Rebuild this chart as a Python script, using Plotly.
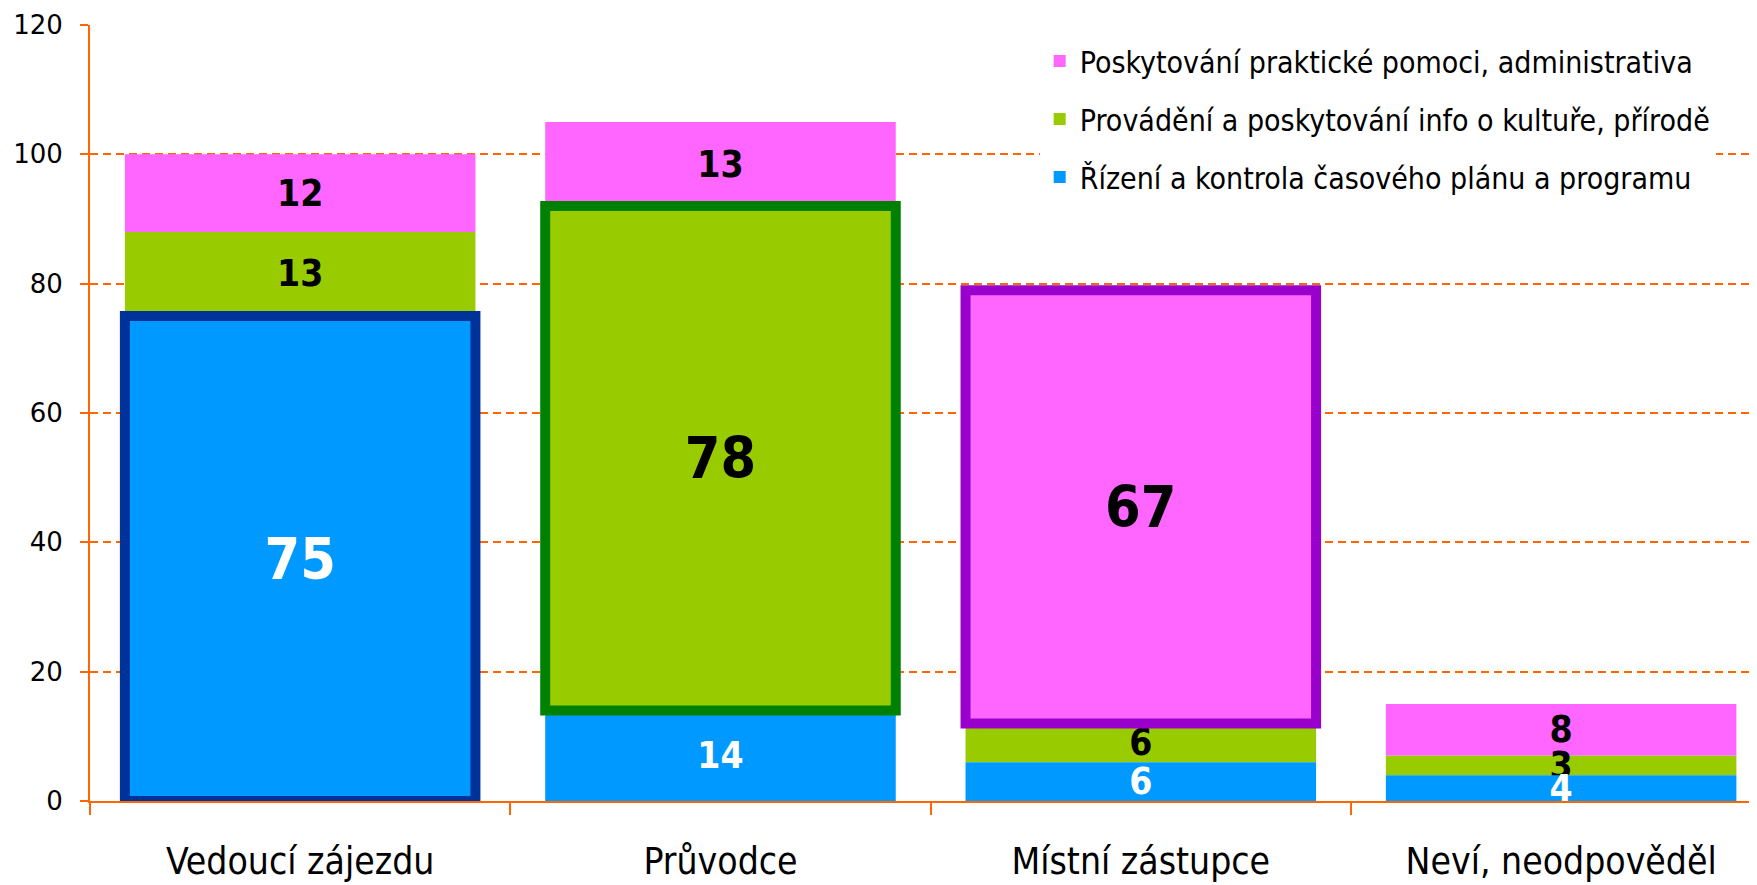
import plotly.graph_objects as go

# ---- data ----
categories = ["Vedoucí zájezdu", "Průvodce", "Místní zástupce", "Neví, neodpověděl"]
series_names = [
    "Řízení a kontrola časového plánu a programu",
    "Provádění a poskytování info o kultuře, přírodě",
    "Poskytování praktické pomoci, administrativa",
]
rizeni = [75, 14, 6, 4]
provadeni = [13, 78, 6, 3]
poskytovani = [12, 13, 67, 8]
highlight = [0, 1, 2, None]          # emphasised series per category
y_ticks = [0, 20, 40, 60, 80, 100, 120]

# ---- styles ----
fills = ["#0099FF", "#99CC00", "#FF66FF"]
borders = ["#003399", "#008000", "#9900CC"]
label_colors = ["white", "black", "black"]
ORANGE = "#FF6600"
COND = "DejaVu Sans Condensed, DejaVu Sans, sans-serif"
BIG, SMALL = 57, 37

series = [rizeni, provadeni, poskytovani]
n = len(categories)

# cumulative bases
bases = []
run = [0] * n
for s in series:
    bases.append(list(run))
    run = [r + v for r, v in zip(run, s)]

fig = go.Figure()
# add in legend order (top series first); bases are explicit
for si in reversed(range(len(series))):
    name, vals = series_names[si], series[si]
    sizes = [BIG if highlight[i] == si else SMALL for i in range(n)]
    fig.add_trace(go.Bar(
        x=categories, y=vals, base=bases[si], name=name,
        marker=dict(color=fills[si], line=dict(width=0)),
        text=[str(v) for v in vals], textposition="inside",
        insidetextanchor="middle", textangle=0, constraintext="none",
        textfont=dict(family=COND, size=sizes, color=label_colors[si], weight="bold"),
        legendgroup=name, hoverinfo="skip",
    ))

# outline of emphasised segments
hl_y = [series[h][i] if h is not None else None for i, h in enumerate(highlight)]
hl_base = [bases[h][i] if h is not None else None for i, h in enumerate(highlight)]
hl_col = [borders[h] if h is not None else "rgba(0,0,0,0)" for h in highlight]
fig.add_trace(go.Bar(
    x=categories, y=hl_y, base=hl_base, showlegend=False,
    marker=dict(color="rgba(0,0,0,0)", line=dict(width=10, color=hl_col)),
    cliponaxis=False, hoverinfo="skip",
))

fig.update_layout(
    width=1749, height=877,
    margin=dict(l=82, r=0, t=17, b=84),
    paper_bgcolor="white", plot_bgcolor="white",
    barmode="overlay", bargap=0.166,
    showlegend=True,
    legend=dict(
        x=0.5697, y=0.987, xanchor="left", yanchor="top",
        bgcolor="white", font=dict(family=COND, size=30, color="black"),
        traceorder="grouped", tracegroupgap=16,
    ),
    font=dict(family="DejaVu Sans, sans-serif", color="black"),
)
fig.update_xaxes(
    range=[-0.5, 3.466], showline=True, linecolor=ORANGE, linewidth=2,
    ticks="outside", tickson="boundaries", ticklen=12, tickcolor=ORANGE, tickwidth=1.5,
    tickfont=dict(family=COND, size=37, color="black"), ticklabelstandoff=27,
    showgrid=False, fixedrange=True, automargin=False,
)
fig.update_yaxes(
    range=[0, 120], tickvals=y_ticks, showline=True, linecolor=ORANGE, linewidth=2,
    ticks="outside", ticklen=8, tickcolor=ORANGE, tickwidth=1.5,
    tickfont=dict(family="DejaVu Sans, sans-serif", size=26, color="black"),
    ticklabelstandoff=12, automargin=False,
    showgrid=True, gridcolor=ORANGE, gridwidth=1.6, griddash="8px,5px",
    zeroline=False,
)

fig.write_html("out.html")
